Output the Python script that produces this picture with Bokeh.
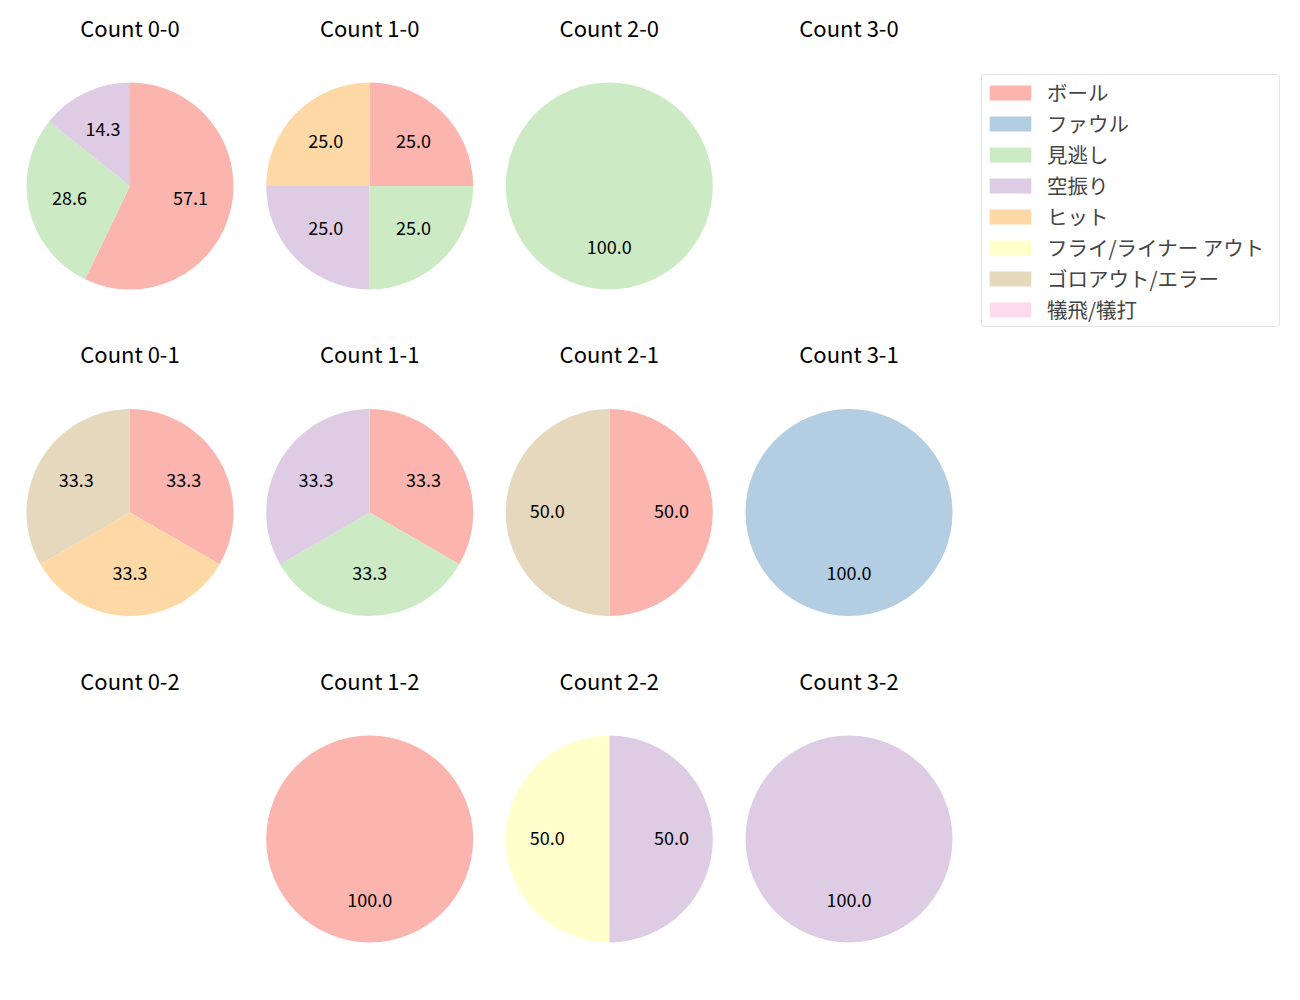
import math
from bokeh.plotting import figure
from bokeh.models import ColumnDataSource, Range1d, Legend, LegendItem
from bokeh.core.properties import value
from bokeh.embed import file_html
from bokeh.resources import INLINE

# ---- data ----
categories = ["ボール", "ファウル", "見逃し", "空振り", "ヒット",
              "フライ/ライナー アウト", "ゴロアウト/エラー", "犠飛/犠打"]
colors = ["#fbb4ae", "#b3cde3", "#ccebc5", "#decbe4", "#fed9a6",
          "#ffffcc", "#e5d8bd", "#fddaec"]

# counts per category (same order as categories), one list per ball-strike count
count_labels = ["Count 0-0", "Count 1-0", "Count 2-0", "Count 3-0",
                "Count 0-1", "Count 1-1", "Count 2-1", "Count 3-1",
                "Count 0-2", "Count 1-2", "Count 2-2", "Count 3-2"]
c00 = [4, 0, 2, 1, 0, 0, 0, 0]
c10 = [1, 0, 1, 1, 1, 0, 0, 0]
c20 = [0, 0, 1, 0, 0, 0, 0, 0]
c30 = [0, 0, 0, 0, 0, 0, 0, 0]
c01 = [1, 0, 0, 0, 1, 0, 1, 0]
c11 = [1, 0, 1, 1, 0, 0, 0, 0]
c21 = [1, 0, 0, 0, 0, 0, 1, 0]
c31 = [0, 1, 0, 0, 0, 0, 0, 0]
c02 = [0, 0, 0, 0, 0, 0, 0, 0]
c12 = [1, 0, 0, 0, 0, 0, 0, 0]
c22 = [0, 0, 0, 1, 0, 1, 0, 0]
c32 = [0, 0, 0, 1, 0, 0, 0, 0]
count_values = [c00, c10, c20, c30, c01, c11, c21, c31, c02, c12, c22, c32]

# ---- layout ----
W, H = 1300, 1000
col_x = [129.5, 369.2, 608.8, 848.5]
row_y = [185.5, 512.0, 838.5]        # from top
R = 103.5
FONT = "Noto Sans CJK JP"

p = figure(width=W, height=H, x_range=Range1d(0, W), y_range=Range1d(0, H),
           output_backend="svg", toolbar_location=None, min_border=0,
           background_fill_color="white", border_fill_color="white")
p.axis.visible = False
p.grid.visible = False
p.outline_line_color = None

wedge_data = {i: dict(x=[], y=[], start=[], end=[]) for i in range(len(categories))}
lab = dict(x=[], y=[], t=[])
tit = dict(x=[], y=[], t=[])

for k, vals in enumerate(count_values):
    r, c = divmod(k, 4)
    cx = col_x[c]
    cy = H - row_y[r]
    tit["x"].append(cx); tit["y"].append(cy + 159.5); tit["t"].append(count_labels[k])
    total = sum(vals)
    if total == 0:
        continue
    cum = 0.0
    for i, v in enumerate(vals):
        f0 = cum / total
        f1 = (cum + v) / total
        cum += v
        d = wedge_data[i]
        d["x"].append(cx); d["y"].append(cy)
        if v == 0:
            # zero-sized slice: kept as data, nothing to draw
            d["start"].append(float("nan")); d["end"].append(float("nan"))
            continue
        if v == total:
            a_start, a_end = 0.0, 2 * math.pi
        else:
            a_start = math.radians(90 - f1 * 360)
            a_end = math.radians(90 - f0 * 360)
        d["start"].append(a_start); d["end"].append(a_end)
        mid = math.radians(90 - (f0 + f1) / 2 * 360)
        lab["x"].append(cx + 0.6 * R * math.cos(mid))
        lab["y"].append(cy + 0.6 * R * math.sin(mid) + 1.5)
        lab["t"].append(f"{100.0 * v / total:.1f}")

items = []
for i, name in enumerate(categories):
    src = ColumnDataSource(wedge_data[i])
    rr = p.wedge(x="x", y="y", radius=R, start_angle="start", end_angle="end",
                 source=src, fill_color=colors[i], line_color=None)
    items.append(LegendItem(label=name, renderers=[rr]))

p.text(x="x", y="y", text="t", source=ColumnDataSource(lab),
       text_font=value(FONT), text_font_size="18px", text_color="black",
       text_align="center", text_baseline="middle")
p.text(x="x", y="y", text="t", source=ColumnDataSource(tit),
       text_font=value(FONT), text_font_size="22px", text_color="black",
       text_align="center", text_baseline="middle")

legend = Legend(items=items, location=(981, 673), orientation="vertical",
                glyph_width=52, glyph_height=19, label_standoff=11,
                label_text_font=FONT, label_text_font_size="20.5px",
                label_height=22, label_width=230, spacing=1, padding=2, margin=0,
                border_line_color="#cccccc", border_line_width=1, border_radius=4,
                background_fill_color="white", background_fill_alpha=1.0)
p.add_layout(legend, "center")

open("out.html", "w").write(file_html(p, INLINE))
